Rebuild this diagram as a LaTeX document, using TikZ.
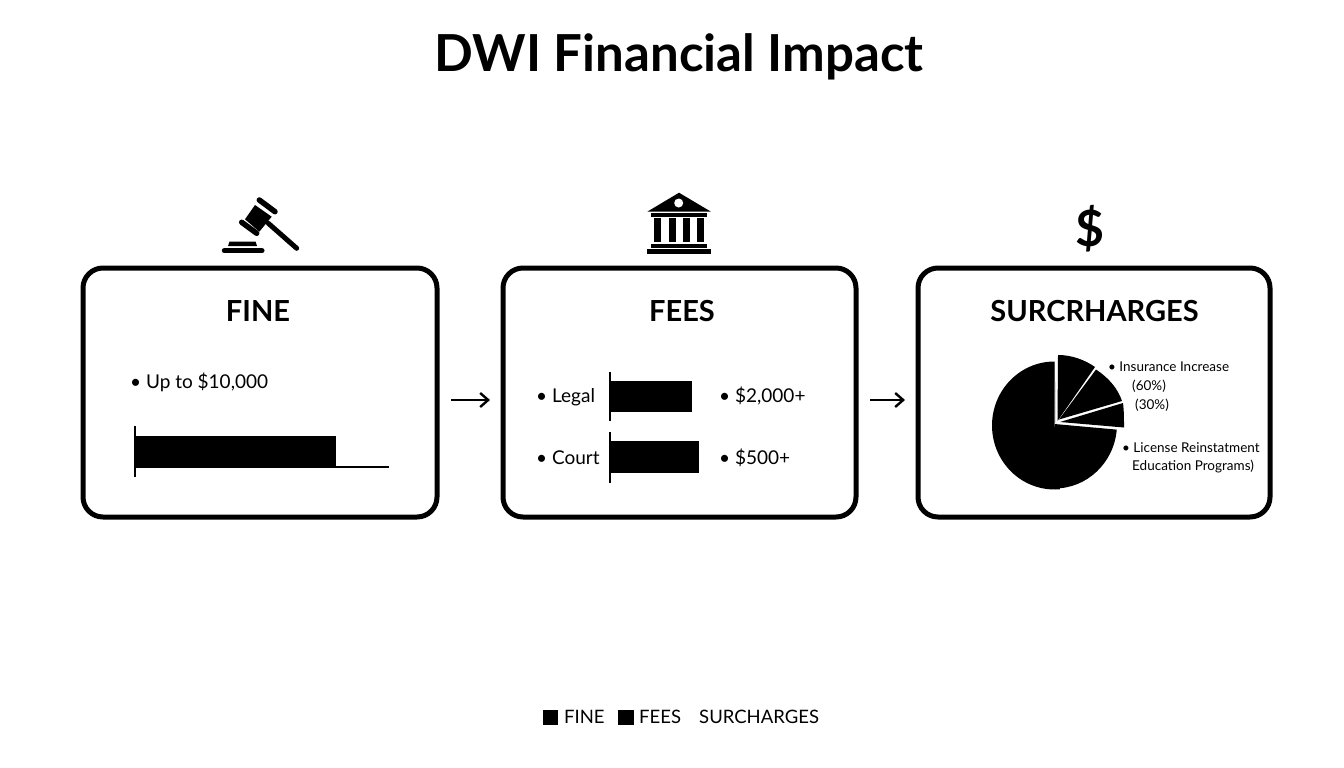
\documentclass[tikz,border=0pt]{standalone}
\usepackage{fontspec}
\setmainfont{Lato}
\usetikzlibrary{arrows.meta}
\newcommand{\fsz}[1]{\fontsize{#1}{#1}\selectfont}
\tikzset{
  panel/.style={draw=black,line width=5pt,rounded corners=20pt,fill=white,minimum height=249pt,outer sep=0pt,inner sep=0pt},
  head/.style={font=\fsz{29}\bfseries,anchor=base,inner sep=0pt},
  lbl/.style={font=\fsz{19},anchor=base west,inner sep=0pt},
  small/.style={font=\fsz{13.5},anchor=base west,inner sep=0pt},
  leg/.style={font=\fsz{18.5},anchor=base west,inner sep=0pt},
  flow/.style={line width=2.6pt,-{Straight Barb[length=8pt,width=14pt,line width=2.4pt]},shorten <=14pt,shorten >=13pt},
  axis/.style={line width=2pt},
  barfill/.style={fill=black},
  slice/.style={fill=black}
}
\begin{document}
\begin{tikzpicture}[x=1pt,y=-1pt]
\useasboundingbox (0,0) rectangle (1344,768);
\node[font=\fsz{51}\bfseries,inner sep=0pt,anchor=base] (title) at (679,72) {DWI Financial Impact};
% panels
\node[panel,minimum width=354pt] (box1) at (260,392.5) {};
\node[panel,minimum width=353pt] (box2) at (679.5,392.5) {};
\node[panel,minimum width=352pt] (box3) at (1094,392.5) {};
\draw[flow] ([yshift=-7.5pt]box1.east) -- ([yshift=-7.5pt]box2.west);
\draw[flow] ([yshift=-7.5pt]box2.east) -- ([yshift=-7.5pt]box3.west);
\node[head] (h1) at (258,321) {FINE};
\node[head] (h2) at (682,321) {FEES};
\node[head] (h3) at (1094.5,321) {SURCRHARGES};
% fine
\node[lbl] (t1) at (130,388) {• Up to \$10,000};
\fill[barfill] (135,436) rectangle (336,468);
\draw[axis] (135,426) -- (135,477);
\draw[line width=1.6pt] (336,467) -- (389,467);
% fees
\node[lbl] (t2) at (536,402.7) {• Legal};
\node[lbl] (t3) at (536,464) {• Court};
\node[lbl] (t4) at (719,402.7) {• \$2,000+};
\node[lbl] (t5) at (719,464) {• \$500+};
\fill[barfill] (610,381) rectangle (692,412);
\draw[axis] (610,372) -- (610,420.5);
\fill[barfill] (610,441) rectangle (699,473);
\draw[axis] (610,432) -- (610,483);
% pie
\fill[slice] (1056,423.5) -- (1054.5,361.5)
  arc[start angle=268.6,end angle=-263.5+360+2,radius=0] -- cycle;
\fill[slice] (1055,425) circle[radius=0];
\fill[slice] (1054.5,424) -- (1054.5,361.5) arc[start angle=90,delta angle=185,x radius=62.5,y radius=-64] -- (1054.5,424) -- cycle;
\fill[slice] (1054.5,424) -- (1054.5,488.5) arc[start angle=270,delta angle=85,x radius=62.5,y radius=-64.5] -- cycle;
\fill[slice] (1057.5,421) -- (1058,355) .. controls (1072,355) and (1085,360) .. (1095,367) -- cycle;
\fill[slice] (1059,419.5) -- (1096,369.5) .. controls (1109,378) and (1118,389) .. (1122,401) -- cycle;
\fill[slice] (1060,422) -- (1123,403) .. controls (1124,411) and (1124,419) .. (1124,427.5) -- cycle;
\node[small] (p1) at (1108,371) {• Insurance Increase};
\node[small] (p2) at (1132,390) {(60\%)};
\node[small] (p3) at (1135,409) {(30\%)};
\node[small] (p4) at (1122,452) {• License Reinstatment};
\node[small] (p5) at (1132,470) {Education Programs)};
% gavel
\draw[line width=5.5pt,line cap=round] (259.3,200) -- (275,211.7);
\draw[line width=5.5pt,line cap=round] (241.7,222.3) -- (256.7,233.3);
\fill (255,205) -- (271.7,216.7) -- (259.3,231.7) -- (245,219.3) -- cycle;
\draw[line width=5pt,line cap=round] (268.3,223.3) -- (296.7,248.3);
\fill (229.5,241.5) -- (255.5,241.5) -- (257,246) -- (228,246) -- cycle;
\draw[line width=5.5pt,line cap=round] (224.5,250.7) -- (261.8,250.7);
% bank
\fill (679,192.7) -- (711,211.7) -- (647.3,211.7) -- cycle;
\fill[white] (678.7,203) circle[radius=4.5];
\fill (651,213.3) rectangle (707.3,217.3);
\foreach \cx in {654.3,669,683.3,697.3} \fill (\cx,218.3) rectangle (\cx+6.7,242.3);
\fill (650.7,244) rectangle (707.3,248.3);
\fill (647.3,249.3) rectangle (711,254);
% dollar
\node[font=\fsz{50}\bfseries,inner sep=0pt,anchor=base] (dollar) at (1090,246) {\$};
% legend
\fill (543,710) rectangle (558,724.5);
\node[leg] (l1) at (564,723.5) {FINE};
\fill (618,710) rectangle (634,724.5);
\node[leg] (l2) at (639,723.5) {FEES};
\node[leg] (l3) at (699,723.5) {SURCHARGES};
\end{tikzpicture}
\end{document}
